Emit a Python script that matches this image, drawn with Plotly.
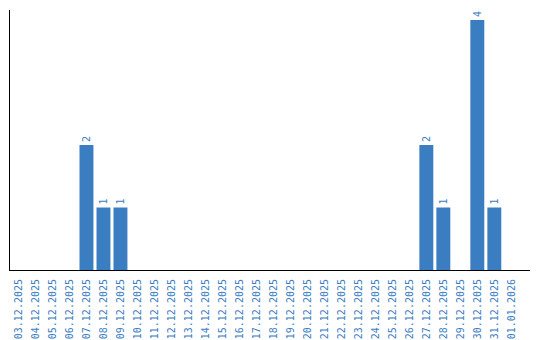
import plotly.graph_objects as go

dates = ["03.12.2025", "04.12.2025", "05.12.2025", "06.12.2025", "07.12.2025",
         "08.12.2025", "09.12.2025", "10.12.2025", "11.12.2025", "12.12.2025",
         "13.12.2025", "14.12.2025", "15.12.2025", "16.12.2025", "17.12.2025",
         "18.12.2025", "19.12.2025", "20.12.2025", "21.12.2025", "22.12.2025",
         "23.12.2025", "24.12.2025", "25.12.2025", "26.12.2025", "27.12.2025",
         "28.12.2025", "29.12.2025", "30.12.2025", "31.12.2025", "01.01.2026"]
counts = [0, 0, 0, 0, 2, 1, 1, 0, 0, 0,
          0, 0, 0, 0, 0, 0, 0, 0, 0, 0,
          0, 0, 0, 0, 2, 1, 0, 4, 1, 0]

labels = [str(v) if v > 0 else "" for v in counts]

BLUE = "#3b7dc1"
FONT = "DejaVu Sans Mono"

fig = go.Figure(go.Bar(
    x=dates, y=counts, text=labels, textposition="outside", textangle=-90,
    textfont=dict(family=FONT, size=10, color=BLUE), cliponaxis=False,
    marker=dict(color=BLUE, line=dict(width=0)),
))
fig.update_layout(
    width=540, height=340, margin=dict(l=10, r=10, t=10, b=70, autoexpand=False),
    paper_bgcolor="white", plot_bgcolor="white", bargap=0.18,
    showlegend=False,
    font=dict(family=FONT, size=10, color=BLUE),
)
fig.update_xaxes(type="category", range=[-0.5, 30.1], tickangle=-90,
                 showline=True, linecolor="black", linewidth=1, automargin=False,
                 showgrid=False, ticks="", ticklabelstandoff=4,
                 tickfont=dict(family=FONT, size=10, color=BLUE))
fig.update_yaxes(range=[0, 4.16], showline=True, linecolor="black", linewidth=1,
                 automargin=False,
                 showgrid=False, showticklabels=False, ticks="", zeroline=False)
fig.write_html("out.html")
